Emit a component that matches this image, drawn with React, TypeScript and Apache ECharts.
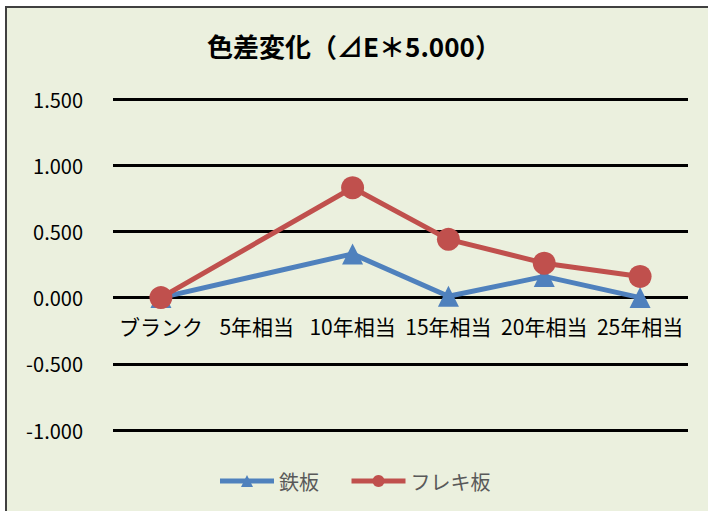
import React, { useEffect, useRef } from "react";
import * as echarts from "echarts";

const categories = ["ブランク", "5年相当", "10年相当", "15年相当", "20年相当", "25年相当"];
const ironValues = [0, null, 0.33, 0.01, 0.16, 0.0];
const flexValues = [0, null, 0.83, 0.44, 0.26, 0.16];
const seriesNames = ["鉄板", "フレキ板"];
const titleText = "色差変化（⊿E＊5.000）";

const FONT = "'Noto Sans CJK JP', 'Noto Sans', sans-serif";

export default function App() {
  const ref = useRef<HTMLDivElement>(null);
  useEffect(() => {
    if (!ref.current) return;
    const chart = echarts.init(ref.current, undefined, { renderer: "svg" });
    chart.setOption({
      animation: false,
      backgroundColor: "#ffffff",
      graphic: [
        {
          type: "rect",
          z: -10,
          silent: true,
          shape: { x: 6, y: 7, width: 720, height: 520 },
          style: { fill: "#EBF0DE", stroke: "#404040", lineWidth: 2 },
        },
      ],
      title: {
        text: titleText,
        left: "center",
        top: 27,
        textStyle: { fontFamily: FONT, fontSize: 26, fontWeight: "bold", color: "#000" },
      },
      legend: {
        top: 466,
        left: "center",
        itemWidth: 54,
        itemHeight: 15,
        itemGap: 30,
        lineStyle: { width: 5 },
        textStyle: { fontFamily: FONT, fontSize: 20, color: "#595959" },
        data: seriesNames,
      },
      grid: { left: 113, right: 20, top: 99, bottom: 81 },
      xAxis: {
        type: "category",
        data: categories,
        boundaryGap: true,
        offset: -133,
        axisLine: { show: false },
        axisTick: { show: false },
        axisLabel: { fontFamily: FONT, fontSize: 21, color: "#000", margin: 18, interval: 0 },
      },
      yAxis: {
        type: "value",
        min: -1,
        max: 1.5,
        interval: 0.5,
        axisLine: { show: false },
        axisTick: { show: false },
        axisLabel: {
          fontFamily: FONT,
          fontSize: 20,
          color: "#000",
          margin: 30,
          formatter: (v: number) => v.toFixed(3),
        },
        splitLine: { lineStyle: { color: "#000", width: 3 } },
      },
      series: [
        {
          name: seriesNames[0],
          type: "line",
          data: ironValues,
          connectNulls: true,
          symbol: "triangle",
          symbolSize: 21,
          lineStyle: { color: "#4F81BD", width: 5 },
          itemStyle: { color: "#4F81BD" },
        },
        {
          name: seriesNames[1],
          type: "line",
          data: flexValues,
          connectNulls: true,
          symbol: "circle",
          symbolSize: 23,
          lineStyle: { color: "#C0504D", width: 5 },
          itemStyle: { color: "#C0504D" },
        },
      ],
    });
    return () => chart.dispose();
  }, []);
  return (
    <div
      ref={ref}
      style={{ position: "absolute", left: 0, top: 0, width: 708, height: 511 }}
    />
  );
}
